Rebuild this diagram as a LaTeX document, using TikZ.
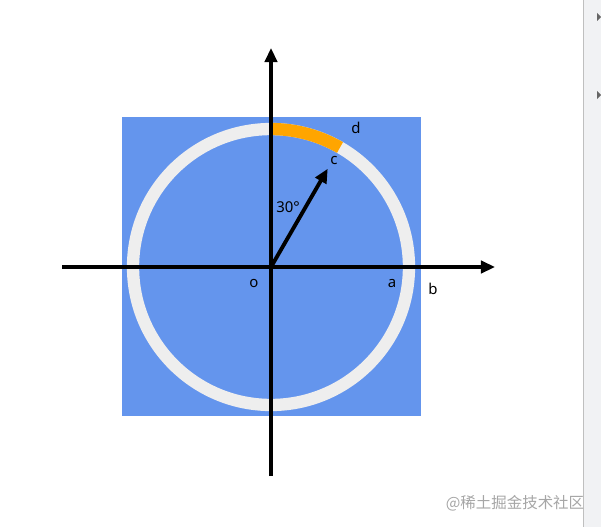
\documentclass[tikz,border=0pt]{standalone}
\usepackage{fontspec}
\setmainfont{Noto Sans}
\newfontfamily\cjk{Noto Sans CJK SC}
\usetikzlibrary{arrows.meta}
\definecolor{sqblue}{HTML}{6495ED}
\definecolor{ringgray}{HTML}{EEEEEE}
\definecolor{arcorange}{HTML}{FFA500}
\definecolor{barbg}{HTML}{F1F2F4}

\begin{document}
\begin{tikzpicture}[x=0.02cm,y=-0.02cm,
  axis/.style={line width=2.2pt,-{Triangle[length=8pt,width=7pt]}},
  lbl/.style={inner sep=0pt,font=\fontsize{8.5}{10}\selectfont}]
\useasboundingbox (0,0) rectangle (601,527);
\fill[white] (0,0) rectangle (601,527);

% side bar
\fill[barbg] (583,0) rectangle (601,527);
\draw[gray!50,line width=0.5pt] (583,0) -- (583,527);
\fill[gray!80!black] (597,13) -- (601,17) -- (597,21) -- cycle;
\fill[gray!80!black] (597,91) -- (601,95) -- (597,99) -- cycle;

\coordinate (o) at (271,267);
\coordinate (xl) at (62,267);
\coordinate (xr) at (495,267);
\coordinate (yb) at (271,476);
\coordinate (yt) at (271,48);
\coordinate (c) at ([shift={(60:2.27cm)}]o);

\fill[sqblue] (122,117) rectangle (421,416);
\draw[ringgray,line width=7pt] (o) circle[radius=2.76cm];
\draw[arcorange,line width=7pt] (o) ++(90:2.76cm) arc[start angle=90,end angle=60,radius=2.76cm];

\draw[axis] (xl) -- (xr);
\draw[axis] (yb) -- (yt);
\draw[axis] (o) -- (c);

\node[lbl] (ang) at (288,207) {30°};
\node[lbl] (lc) at (334,160) {c};
\node[lbl] (ld) at (356,128) {d};
\node[lbl] (lo) at (254,283) {o};
\node[lbl] (la) at (392,284) {a};
\node[lbl] (lb) at (433,289) {b};

\node[inner sep=0pt,text=gray!70,font=\cjk\fontsize{8.8}{10}\selectfont] (mark) at (515,503) {@稀土掘金技术社区};
\end{tikzpicture}
\end{document}
